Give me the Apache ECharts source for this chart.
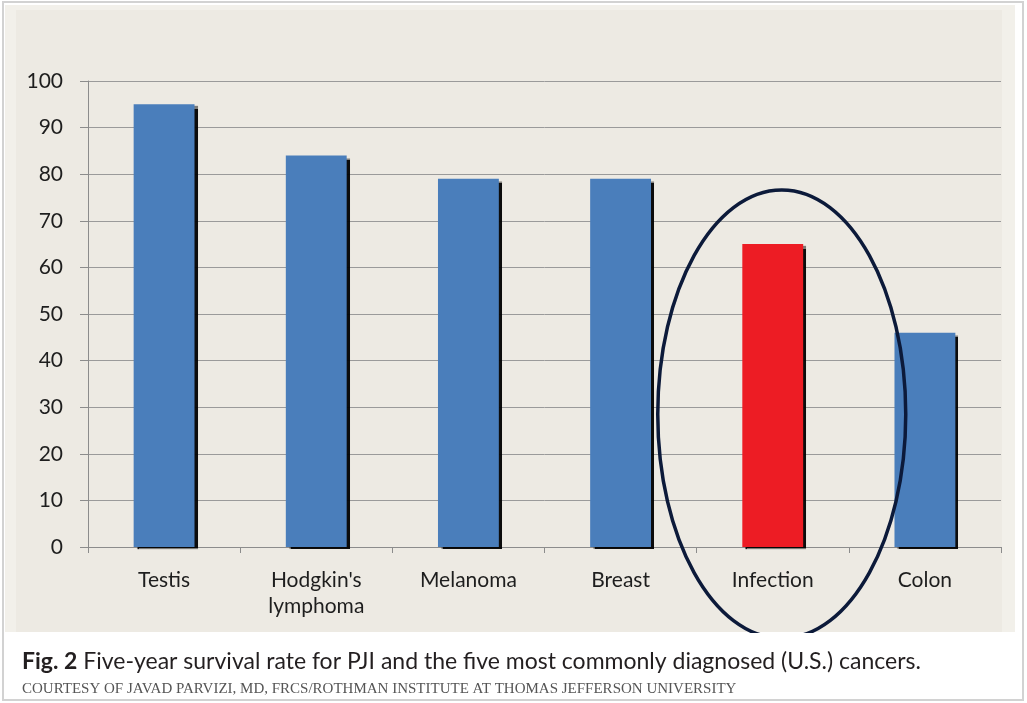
<!DOCTYPE html>
<html>
<head>
<meta charset="utf-8">
<script src="https://cdn.jsdelivr.net/npm/echarts@6/dist/echarts.min.js"></script>
<style>html,body{margin:0;padding:0;background:#fff}#c{width:1027px;height:703px}</style>
</head>
<body>
<div id="c"></div>
<script>
const categories = ["Testis", "Hodgkin's\nlymphoma", "Melanoma", "Breast", "Infection", "Colon"];
const values = [95, 84, 79, 79, 65, 46];
const highlight = "Infection";
const yTicks = { min: 0, max: 100, interval: 10 };
const captionBold = "Fig. 2";
const captionText = " Five-year survival rate for PJI and the five most commonly diagnosed (U.S.) cancers.";
const courtesy = "COURTESY OF JAVAD PARVIZI, MD, FRCS/ROTHMAN INSTITUTE AT THOMAS JEFFERSON UNIVERSITY";

const chart = echarts.init(document.getElementById('c'), null, { renderer: 'canvas' });
const labelFont = 'Lato, "Open Sans", sans-serif';

const bg = [
  { type: 'rect', z: -30, shape: { x: 3, y: 2, width: 1020, height: 698 }, style: { fill: '#ffffff', stroke: '#d2d2d2', lineWidth: 2 } },
  { type: 'rect', z: -20, shape: { x: 5, y: 5, width: 1010, height: 627 }, style: { fill: '#f2f0ea' } },
  { type: 'rect', z: -10, shape: { x: 16, y: 10, width: 986, height: 622 }, style: { fill: '#edeae3' } }
];

const option = {
  animation: false,
  backgroundColor: '#ffffff',
  title: {
    left: 17, top: 645,
    text: '{b|' + captionBold + '}' + captionText,
    textStyle: {
      fontFamily: labelFont, fontSize: 23, fontWeight: 'normal', color: '#231f20',
      rich: { b: { fontFamily: labelFont, fontSize: 23, fontWeight: 'bold', color: '#231f20' } }
    },
    subtext: courtesy,
    itemGap: 9,
    subtextStyle: { fontFamily: '"Liberation Serif", "DejaVu Serif", serif', fontSize: 15, color: '#555555' }
  },
  grid: { left: 88, right: 26, top: 81, bottom: 156, containLabel: false },
  xAxis: {
    type: 'category',
    data: categories,
    axisLine: { lineStyle: { color: '#8c8c8c', width: 1 } },
    axisTick: { show: true, length: 6, inside: false, lineStyle: { color: '#8c8c8c' } },
    axisLabel: { fontFamily: labelFont, fontSize: 21, color: '#1e1e1e', margin: 20, lineHeight: 26 }
  },
  yAxis: {
    type: 'value',
    min: yTicks.min, max: yTicks.max, interval: yTicks.interval,
    axisLine: { show: true, lineStyle: { color: '#8c8c8c', width: 1 } },
    axisTick: { show: true, length: 8, lineStyle: { color: '#8c8c8c' } },
    splitLine: { lineStyle: { color: '#9a9a9a', width: 1 } },
    axisLabel: { fontFamily: labelFont, fontSize: 21, color: '#1e1e1e', margin: 25 }
  },
  series: [{
    type: 'bar',
    barWidth: '40%',
    data: values.map((v, i) => ({
      value: v,
      itemStyle: { color: categories[i] === highlight ? '#ed1c24' : '#4a7ebb' }
    })),
    itemStyle: { shadowColor: 'rgba(0,0,0,0.95)', shadowOffsetX: 3, shadowOffsetY: 2, shadowBlur: 1 }
  }],
  graphic: bg
};
chart.setOption(option);

// Annotation ellipse around the highlighted category
const cxp = chart.convertToPixel({ xAxisIndex: 0 }, highlight) + 9;
const topP = chart.convertToPixel({ yAxisIndex: 0 }, 76.6);
const midP = chart.convertToPixel({ yAxisIndex: 0 }, 28.5);
const ry = midP - topP;
const rx = 124;
chart.setOption({
  graphic: bg.concat([
    { type: 'ellipse', z: 50, shape: { cx: cxp, cy: midP, rx: rx, ry: ry }, style: { fill: 'none', stroke: '#0c1a3a', lineWidth: 3.5 } },
    { type: 'rect', z: 51, shape: { x: cxp - 150, y: 633, width: 300, height: 10 }, style: { fill: '#ffffff' } }
  ])
});
</script>
</body>
</html>
